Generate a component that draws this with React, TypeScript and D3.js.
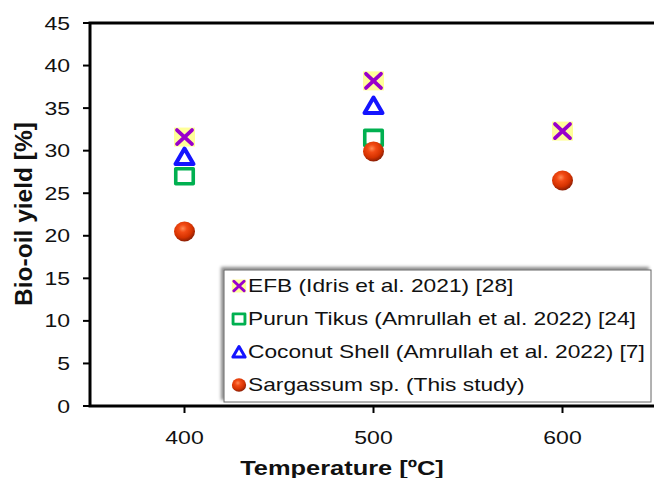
import React from "react";
import * as d3 from "d3";

const temps = [400, 500, 600];
const efb = [31.6, 38.2, 32.3];
const purun = [27.0, 31.5, null];
const coconut = [29.3, 35.3, null];
const sargassum = [20.5, 29.9, 26.5];
const yTicks = [0, 5, 10, 15, 20, 25, 30, 35, 40, 45];
const xTicks = [400, 500, 600];
const legendLabels = [
  "EFB (Idris et al. 2021) [28]",
  "Purun Tikus (Amrullah et al. 2022) [24]",
  "Coconut Shell (Amrullah et al. 2022) [7]",
  "Sargassum sp. (This study)",
];

const W = 654, H = 478;
const FONT = "'Liberation Sans', Arial, sans-serif";
const SX = 1.28;

const x = d3.scaleLinear().domain([350, 650]).range([90, 657]);
const y = d3.scaleLinear().domain([0, 45]).range([406, 23]);

const PURPLE = "#9900CC";
const YELLOW = "#FFFF99";
const GREEN = "#00B050";
const BLUE = "#1414FF";

function XMark({ cx, cy, s = 1 }: { cx: number; cy: number; s?: number }) {
  const hw = 10.5 * s, hh = 9.5 * s, iw = 7.5 * s, ih = 7 * s;
  return (
    <g>
      <rect x={cx - hw} y={cy - hh} width={hw * 2} height={hh * 2} fill={YELLOW} />
      <path
        d={`M${cx - iw},${cy - ih}L${cx + iw},${cy + ih}M${cx - iw},${cy + ih}L${cx + iw},${cy - ih}`}
        stroke={PURPLE}
        strokeWidth={3.8 * Math.max(s, 0.8)}
        strokeLinecap="round"
        fill="none"
      />
    </g>
  );
}

function SqMark({ cx, cy, s = 1 }: { cx: number; cy: number; s?: number }) {
  const w = 17.5 * s, h = 15 * s;
  return (
    <rect x={cx - w / 2} y={cy - h / 2} width={w} height={h} fill="white" stroke={GREEN} strokeWidth={3.6 * Math.max(s, 0.8)} strokeLinejoin="round" />
  );
}

function TriMark({ cx, cy, s = 1 }: { cx: number; cy: number; s?: number }) {
  const hw = 9 * s, top = cy - 8 * s, bot = cy + 7.5 * s;
  return (
    <path
      d={`M${cx},${top}L${cx + hw},${bot}L${cx - hw},${bot}Z`}
      fill="white"
      stroke={BLUE}
      strokeWidth={4 * Math.max(s, 0.75)}
      strokeLinejoin="round"
    />
  );
}

function Ball({ cx, cy, s = 1 }: { cx: number; cy: number; s?: number }) {
  return <ellipse cx={cx} cy={cy} rx={10.5 * s} ry={10 * s} fill="url(#ballGrad)" />;
}

function HText({ x: tx, y: ty, anchor, size, bold, sx = SX, children }: any) {
  return (
    <g transform={`translate(${tx},${ty}) scale(${sx},1)`}>
      <text
        x={0}
        y={0}
        textAnchor={anchor}
        fontFamily={FONT}
        fontSize={size}
        fontWeight={bold ? "bold" : "normal"}
        fill="#111"
      >
        {children}
      </text>
    </g>
  );
}

export default function App() {
  const legendY = [286, 319, 352, 385];
  const lgX = 239;
  const markers = [
    { data: efb, C: XMark },
    { data: purun, C: SqMark },
    { data: coconut, C: TriMark },
    { data: sargassum, C: Ball },
  ];
  return (
    <svg
      width={W}
      height={H}
      style={{ position: "absolute", left: 0, top: 0, background: "white" }}
    >
      <defs>
        <radialGradient id="ballGrad" cx="42%" cy="35%" r="65%">
          <stop offset="0%" stopColor="#FF8A55" />
          <stop offset="30%" stopColor="#F24A14" />
          <stop offset="70%" stopColor="#D53200" />
          <stop offset="100%" stopColor="#8A1E05" />
        </radialGradient>
        <filter id="lgShadow" x="-5%" y="-10%" width="110%" height="120%">
          <feDropShadow dx={-2.5} dy={-2.5} stdDeviation={1.6} floodColor="#000" floodOpacity={0.45} />
        </filter>
      </defs>
      <rect width={W} height={H} fill="white" />

      {/* plot frame */}
      <rect
        x={x(350)}
        y={y(45)}
        width={x(650) - x(350)}
        height={y(0) - y(45)}
        fill="none"
        stroke="#000"
        strokeWidth={3}
      />

      {/* y ticks */}
      {yTicks.map((t) => (
        <g key={"yt" + t}>
          <line x1={x(350) - 7} x2={x(350)} y1={y(t)} y2={y(t)} stroke="#000" strokeWidth={2} />
          <HText x={70} y={y(t) + 6.5} anchor="end" size={18}>
            {t}
          </HText>
        </g>
      ))}

      {/* x ticks */}
      {xTicks.map((t) => (
        <g key={"xt" + t}>
          <line x1={x(t)} x2={x(t)} y1={y(0)} y2={y(0) + 7} stroke="#000" strokeWidth={2} />
          <HText x={x(t)} y={443.5} anchor="middle" size={18}>
            {t}
          </HText>
        </g>
      ))}

      {/* axis titles */}
      <HText x={342} y={475} anchor="middle" size={20} bold sx={1.27}>
        Temperature [ºC]
      </HText>
      <text
        transform={`translate(32,${214}) rotate(-90)`}
        textAnchor="middle"
        fontFamily={FONT}
        fontSize={24.5}
        fontWeight="bold"
        fill="#111"
      >
        Bio-oil yield [%]
      </text>

      {/* data markers */}
      {markers.map((m, i) => (
        <g key={"m" + i}>
          {m.data.map((v, j) =>
            v == null ? null : <m.C key={j} cx={x(temps[j])} cy={y(v as number)} />
          )}
        </g>
      ))}

      {/* legend */}
      <rect x={224} y={270} width={427} height={132} fill="white" stroke="#666" strokeWidth={1} filter="url(#lgShadow)" />
      {markers.map((m, i) => (
        <g key={"lg" + i}>
          <m.C cx={lgX} cy={legendY[i]} s={0.68} />
          <HText x={248} y={legendY[i] + 6.3} anchor="start" size={17.5} sx={1.3}>
            {legendLabels[i]}
          </HText>
        </g>
      ))}
    </svg>
  );
}
